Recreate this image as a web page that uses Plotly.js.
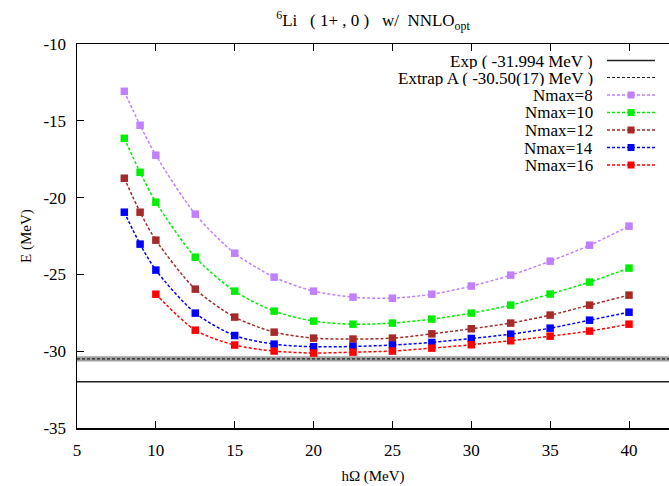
<!DOCTYPE html>
<html>
<head>
<meta charset="utf-8">
<script src="https://cdn.plot.ly/plotly-3.0.1.min.js"></script>
<style>html,body{margin:0;padding:0;background:#fff;}#chart{width:669px;height:486px;}</style>
</head>
<body>
<div id="chart"></div>
<script>
// ---- data ----
var hw = [8, 9, 10, 12.5, 15, 17.5, 20, 22.5, 25, 27.5, 30, 32.5, 35, 37.5, 40];
var hw16 = [10, 12.5, 15, 17.5, 20, 22.5, 25, 27.5, 30, 32.5, 35, 37.5, 40];
var nmax8  = [-13.08, -15.29, -17.24, -21.08, -23.62, -25.18, -26.09, -26.48, -26.55, -26.29, -25.76, -25.05, -24.14, -23.10, -21.86];
var nmax10 = [-16.14, -18.35, -20.30, -23.88, -26.09, -27.39, -28.04, -28.24, -28.17, -27.91, -27.52, -27.00, -26.28, -25.50, -24.59];
var nmax12 = [-18.74, -20.95, -22.77, -25.96, -27.78, -28.76, -29.15, -29.21, -29.15, -28.87, -28.54, -28.17, -27.65, -27.00, -26.35];
var nmax14 = [-20.95, -23.03, -24.72, -27.52, -28.98, -29.54, -29.71, -29.69, -29.60, -29.43, -29.17, -28.89, -28.50, -27.98, -27.46];
var nmax16 = [-26.29, -28.63, -29.60, -29.99, -30.12, -30.06, -29.99, -29.80, -29.58, -29.32, -29.02, -28.69, -28.24];
var expE = -31.994;
var extrapE = -30.50;
var extrapErr = 0.17;
var seriesNames = ["Nmax=8", "Nmax=10", "Nmax=12", "Nmax=14", "Nmax=16"];
var seriesColors = ["#c080ff", "#00ee00", "#a52a2a", "#0000ff", "#ff0000"];
var xTickVals = [5, 10, 15, 20, 25, 30, 35, 40];
var xTickText = ["5", "10", "15", "20", "25", "30", "35", "40"];
var yTickVals = [-35, -30, -25, -20, -15, -10];
var yTickText = ["-35", "-30", "-25", "-20", "-15", "-10"];
var legendTexts = ["Exp ( -31.994 MeV )", "Extrap A ( -30.50(17) MeV )"].concat(seriesNames);

var FONT = "Liberation Serif, Times New Roman, serif";
var xs = [hw, hw, hw, hw, hw16];
var ys = [nmax8, nmax10, nmax12, nmax14, nmax16];

var traces = [];
for (var i = 0; i < 5; i++) {
  traces.push({
    type: "scatter", mode: "lines+markers", name: seriesNames[i],
    x: xs[i], y: ys[i],
    line: {color: seriesColors[i], width: 1.5, dash: "3px,2px", shape: "spline", smoothing: 0.8},
    marker: {symbol: "square", size: 7.5, color: seriesColors[i], line: {width: 0}},
    showlegend: false, hoverinfo: "x+y"
  });
}

// plot geometry (pixels) for the hand-drawn legend
var W = 669, H = 486, ML = 77, MR = 0, MT = 44, MB = 58;
var PW = W - ML - MR, PH = H - MT - MB;
function px(x) { return (x - ML) / PW; }
function py(y) { return (H - MB - y) / PH; }

var shapes = [
  // extrapolation band
  {type: "rect", xref: "paper", yref: "y", x0: 0, x1: 1, y0: extrapE - extrapErr, y1: extrapE + extrapErr,
   fillcolor: "#a0a0a0", line: {width: 0}, layer: "below"},
  {type: "line", xref: "paper", yref: "y", x0: 0, x1: 1, y0: extrapE, y1: extrapE,
   line: {color: "#222", width: 1.2, dash: "3px,2px"}},
  {type: "line", xref: "paper", yref: "y", x0: 0, x1: 1, y0: expE, y1: expE,
   line: {color: "#222", width: 1.5}}
];
var annotations = [];
var rowY = [60.5, 77.5, 95, 112.5, 130, 147.5, 165];
var lx0 = 607, lx1 = 655, lxm = 631, textRight = 595;
for (var k = 0; k < legendTexts.length; k++) {
  annotations.push({
    xref: "paper", yref: "paper", x: px(textRight), y: py(rowY[k]), xanchor: "right", yanchor: "middle",
    height: 16, valign: "middle",
    text: legendTexts[k], showarrow: false, font: {family: FONT, size: 17, color: "#000"}
  });
  var lc, ld, lw;
  if (k === 0) { lc = "#222"; ld = "solid"; lw = 1.5; }
  else if (k === 1) { lc = "#222"; ld = "3px,2px"; lw = 1.2; }
  else { lc = seriesColors[k - 2]; ld = "3px,2px"; lw = 1.5; }
  shapes.push({type: "line", xref: "paper", yref: "paper", x0: px(lx0), x1: px(lx1), y0: py(rowY[k]), y1: py(rowY[k]),
    line: {color: lc, width: lw, dash: ld}});
  if (k >= 2) {
    shapes.push({type: "rect", xref: "paper", yref: "paper",
      x0: px(lxm - 3.5), x1: px(lxm + 3.5), y0: py(rowY[k] + 3.5), y1: py(rowY[k] - 3.5),
      fillcolor: lc, line: {width: 0}});
  }
}

var layout = {
  width: W, height: H,
  margin: {l: ML, r: MR, t: MT, b: MB, pad: 0},
  paper_bgcolor: "#fff", plot_bgcolor: "#fff",
  font: {family: FONT, size: 17, color: "#000"},
  title: {text: "<sup>6</sup>Li\u00a0\u00a0\u00a0( 1+ , 0 )\u00a0\u00a0\u00a0w/\u00a0\u00a0NNLO<sub>opt</sub>",
          font: {family: FONT, size: 17, color: "#000"}, x: 0.5, xref: "paper", xanchor: "center",
          y: 1 - 20 / H, yref: "container", yanchor: "middle"},
  xaxis: {
    range: [5, 5 + 35 * PW / 552], tickvals: xTickVals, ticktext: xTickText,
    ticks: "inside", ticklen: 7, tickwidth: 1, tickcolor: "#000",
    showline: true, linecolor: "#000", linewidth: 1.5, mirror: "ticks",
    showgrid: false, zeroline: false, ticklabelstandoff: 6,
    tickfont: {family: FONT, size: 17, color: "#000"},
    title: {text: "hΩ (MeV)", font: {family: FONT, size: 15, color: "#000"}, standoff: 11}
  },
  yaxis: {
    range: [-35, -10], tickvals: yTickVals, ticktext: yTickText,
    ticks: "inside", ticklen: 7, tickwidth: 1, tickcolor: "#000",
    showline: true, linecolor: "#000", linewidth: 1.5, mirror: false,
    showgrid: false, zeroline: false, ticklabelstandoff: 6,
    tickfont: {family: FONT, size: 17, color: "#000"},
    title: {text: "E (MeV)", font: {family: FONT, size: 15, color: "#000"}, standoff: 8}
  },
  shapes: shapes,
  annotations: annotations,
  showlegend: false
};

Plotly.newPlot("chart", traces, layout, {staticPlot: true, displayModeBar: false});
</script>
</body>
</html>
